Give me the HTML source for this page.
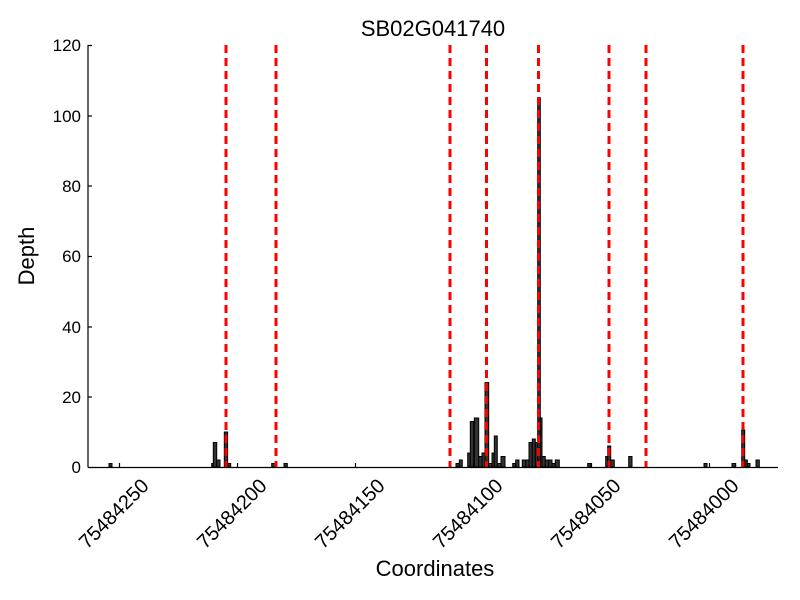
<!DOCTYPE html>
<html><head><meta charset="utf-8"><style>html,body{margin:0;padding:0;background:#fff}svg{display:block}text{font-family:"Liberation Sans",sans-serif;fill:#000}</style></head>
<body>
<svg width="800" height="600" viewBox="0 0 800 600" xmlns="http://www.w3.org/2000/svg">
<rect width="800" height="600" fill="#fff"/>
<text x="433" y="36" font-size="22" text-anchor="middle">SB02G041740</text>
<g fill="#333" stroke="#000" stroke-width="1">
<rect x="109" y="463.5" width="3" height="3.5"/>
<rect x="211.7" y="463.5" width="1.6" height="3.5"/>
<rect x="213.3" y="442.5" width="3.4" height="24.5"/>
<rect x="216.7" y="460" width="3.3" height="7"/>
<rect x="224.3" y="432" width="3.3" height="35"/>
<rect x="227.7" y="463.5" width="3" height="3.5"/>
<rect x="271.7" y="463.5" width="3.3" height="3.5"/>
<rect x="284" y="463.5" width="3.3" height="3.5"/>
<rect x="456" y="463.5" width="3.3" height="3.5"/>
<rect x="459.3" y="460" width="3" height="7"/>
<rect x="467.7" y="453" width="2.6" height="14"/>
<rect x="470.3" y="421.5" width="3.4" height="45.5"/>
<rect x="474.3" y="418" width="4.4" height="49"/>
<rect x="478.7" y="456.5" width="3.3" height="10.5"/>
<rect x="482" y="453" width="3" height="14"/>
<rect x="485" y="382.6" width="3.7" height="84.4"/>
<rect x="488.7" y="463.5" width="3.3" height="3.5"/>
<rect x="492" y="453" width="2.3" height="14"/>
<rect x="494.3" y="436" width="3" height="31"/>
<rect x="497.3" y="463.5" width="3.7" height="3.5"/>
<rect x="501" y="456.5" width="4" height="10.5"/>
<rect x="512.7" y="463.5" width="3" height="3.5"/>
<rect x="515.7" y="460" width="3.3" height="7"/>
<rect x="522.3" y="460" width="3.3" height="7"/>
<rect x="525.7" y="460" width="3.3" height="7"/>
<rect x="529" y="442.5" width="3.3" height="24.5"/>
<rect x="532.3" y="439" width="3" height="28"/>
<rect x="535.3" y="442.5" width="2.4" height="24.5"/>
<rect x="537.7" y="97.7" width="2.6" height="369.3"/>
<rect x="540.3" y="418" width="1.7" height="49"/>
<rect x="542" y="456.5" width="3.3" height="10.5"/>
<rect x="545.3" y="460" width="3.4" height="7"/>
<rect x="548.7" y="460" width="3.3" height="7"/>
<rect x="552" y="463.5" width="3.3" height="3.5"/>
<rect x="555.3" y="460" width="4" height="7"/>
<rect x="587.7" y="463.5" width="3.3" height="3.5"/>
<rect x="605.7" y="456.5" width="2" height="10.5"/>
<rect x="607.7" y="446" width="3" height="21"/>
<rect x="610.7" y="460" width="3.6" height="7"/>
<rect x="628.7" y="456.5" width="3.3" height="10.5"/>
<rect x="704" y="463.5" width="3" height="3.5"/>
<rect x="732" y="463.5" width="3.7" height="3.5"/>
<rect x="741.7" y="430" width="3" height="37"/>
<rect x="744.7" y="460" width="2.6" height="7"/>
<rect x="747.3" y="463.5" width="2.7" height="3.5"/>
<rect x="756" y="460" width="3.3" height="7"/>
</g>
<g stroke="#f00" stroke-width="3" stroke-dasharray="8,5">
<line x1="226" y1="45" x2="226" y2="467"/>
<line x1="276" y1="45" x2="276" y2="467"/>
<line x1="450" y1="45" x2="450" y2="467"/>
<line x1="486.5" y1="45" x2="486.5" y2="467"/>
<line x1="538.5" y1="45" x2="538.5" y2="467"/>
<line x1="609" y1="45" x2="609" y2="467"/>
<line x1="646" y1="45" x2="646" y2="467"/>
<line x1="743" y1="45" x2="743" y2="467"/>
</g>
<g stroke="#000" stroke-width="1.2" fill="none">
<line x1="88" y1="45" x2="88" y2="467.5"/>
<line x1="88" y1="467.5" x2="778" y2="467.5"/>
<line x1="88" y1="45.5" x2="92" y2="45.5"/>
<line x1="88" y1="116" x2="92" y2="116"/>
<line x1="88" y1="186" x2="92" y2="186"/>
<line x1="88" y1="256.5" x2="92" y2="256.5"/>
<line x1="88" y1="327" x2="92" y2="327"/>
<line x1="88" y1="397" x2="92" y2="397"/>
<line x1="119.5" y1="467" x2="119.5" y2="463"/>
<line x1="237.5" y1="467" x2="237.5" y2="463"/>
<line x1="355.5" y1="467" x2="355.5" y2="463"/>
<line x1="473.5" y1="467" x2="473.5" y2="463"/>
<line x1="591.5" y1="467" x2="591.5" y2="463"/>
<line x1="709.5" y1="467" x2="709.5" y2="463"/>
</g>
<g font-size="17" text-anchor="end">
<text x="81" y="51">120</text>
<text x="81" y="122">100</text>
<text x="81" y="192">80</text>
<text x="81" y="262">60</text>
<text x="81" y="333">40</text>
<text x="81" y="403">20</text>
<text x="81" y="473">0</text>
</g>
<g font-size="20" text-anchor="end">
<text transform="translate(150,487) rotate(-45)">75484250</text>
<text transform="translate(268,487) rotate(-45)">75484200</text>
<text transform="translate(386,487) rotate(-45)">75484150</text>
<text transform="translate(504,487) rotate(-45)">75484100</text>
<text transform="translate(622,487) rotate(-45)">75484050</text>
<text transform="translate(740,487) rotate(-45)">75484000</text>
</g>
<text x="435" y="576" font-size="22" text-anchor="middle">Coordinates</text>
<text transform="translate(34,256) rotate(-90)" font-size="22" text-anchor="middle">Depth</text>
</svg>
</body></html>
